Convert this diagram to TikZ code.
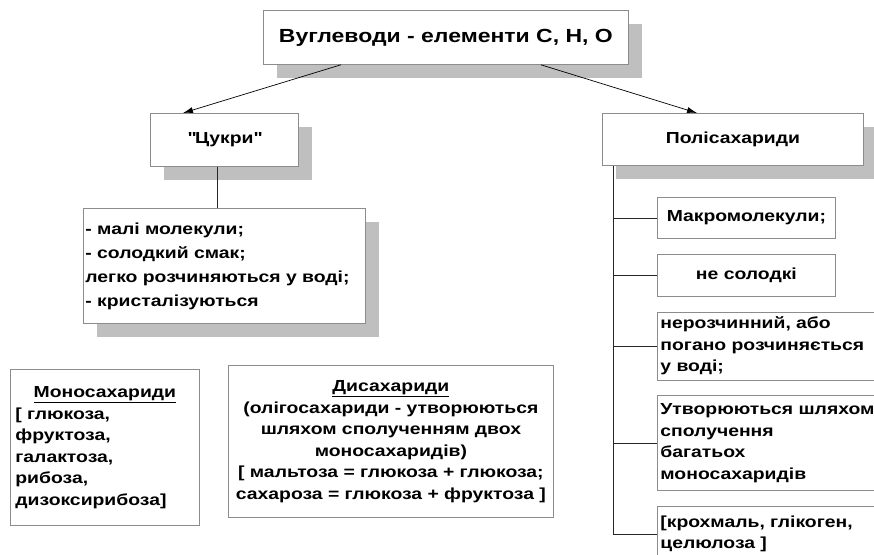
\documentclass[tikz,border=0pt]{standalone}
\usepackage{fontspec}
\setmainfont{Liberation Sans}[FakeStretch=1.21]
\usetikzlibrary{arrows.meta,positioning,shadows}
\tikzset{
  box/.style={draw=black!45, line width=0.8pt, fill=white, inner sep=2pt,
    text=black, font=\bfseries\fontsize{16}{21.5}\selectfont},
  shadowbox/.style={box, drop shadow={shadow xshift=14pt, shadow yshift=-14pt,
    fill=black!25, opacity=1}},
  line/.style={draw=black!85, line width=0.8pt},
  arrow/.style={-{Latex[length=10pt,width=6pt]}, line width=0.7pt, draw=black}
}

\begin{document}
\begin{tikzpicture}[x=1pt, y=-1pt, node distance=15pt]
  \useasboundingbox (0,0) rectangle (874,554);
  \clip (0,0) rectangle (874,554);

  % top levels
  \node[shadowbox, anchor=north west, minimum width=365pt, minimum height=54pt,
    font=\bfseries\fontsize{19}{23}\selectfont] (title) at (263,10)
    {Вуглеводи - елементи C, H, O};
  \node[shadowbox, anchor=north west, minimum width=148pt, minimum height=53pt]
    (sugar) at (150,113) {\textquotedbl Цукри\textquotedbl};
  \node[shadowbox, anchor=north west, minimum width=261pt, minimum height=52pt]
    (poly) at (602,113) {Полісахариди};

  \node[shadowbox, anchor=north west, minimum height=115pt, text width=278pt,
    align=left, font=\bfseries\fontsize{16}{24}\selectfont] (props) at (83,208)
    {- малі молекули;\\- солодкий смак;\\легко розчиняються у воді;\\- кристалізуються};

  % sugars
  \node[box, anchor=north west, minimum height=156pt, inner xsep=5pt,
    text width=179pt, align=left] (mono) at (10,369)
    {\makebox[179pt]{\underline{Моносахариди}}\\{[} глюкоза,\\фруктоза,\\галактоза,\\рибоза,\\дизоксирибоза]};
  \node[box, anchor=north west, minimum height=152pt, inner xsep=5pt,
    text width=315pt, align=center] (disac) at (228,365)
    {\underline{Дисахариди}\\(олігосахариди - утворюються\\шляхом сполученням двох\\моносахаридів)\\{[} мальтоза = глюкоза + глюкоза;\\сахароза = глюкоза + фруктоза ]};

  % polysaccharides
  \node[box, anchor=north west, minimum width=178pt, minimum height=41pt]
    (macro) at (657,197) {Макромолекули;};
  \node[box, below=of macro.south west, anchor=north west, minimum width=178pt,
    minimum height=42pt] (sweet) {не солодкі};
  \node[box, below=of sweet.south west, anchor=north west, minimum height=68pt,
    inner xsep=3pt, text width=226pt, align=left] (insol)
    {нерозчинний, або\\погано розчиняється\\у воді;};
  \node[box, below=of insol.south west, anchor=north west, minimum height=95pt,
    inner xsep=3pt, text width=226pt, align=left] (form)
    {Утворюються шляхом\\сполучення\\багатьох\\моносахаридів};
  \node[box, below=of form.south west, anchor=north west, minimum height=55pt,
    inner xsep=3pt, text width=226pt, align=left] (starch)
    {[крохмаль, глікоген,\\целюлоза ]};

  \draw[arrow] ([xshift=-105pt]title.south) -- ([xshift=33pt]sugar.north west);
  \draw[arrow] ([xshift=95pt]title.south) -- ([xshift=95pt]poly.north west);
  \draw[line] ([xshift=-7pt]sugar.south) -- ([xshift=-7pt]props.north);

  \coordinate (trunk) at ([xshift=11pt]poly.south west);
  \draw[line] (trunk) |- (starch.west);
  \draw[line] (trunk |- macro.west) -- (macro.west);
  \draw[line] (trunk |- sweet.west) -- (sweet.west);
  \draw[line] (trunk |- insol.west) -- (insol.west);
  \draw[line] (trunk |- form.west) -- (form.west);
\end{tikzpicture}
\end{document}
